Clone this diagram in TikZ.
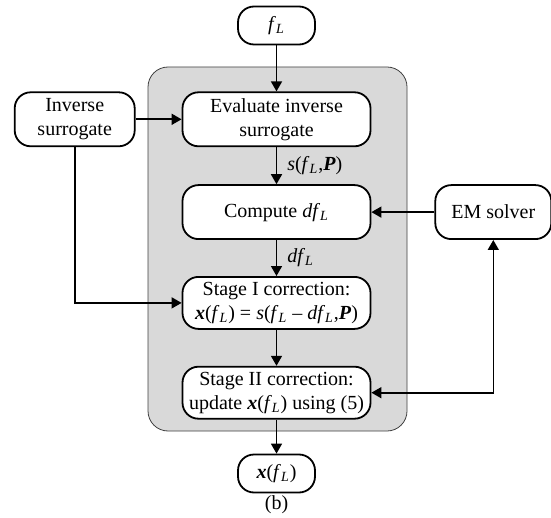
\documentclass[tikz,border=0pt]{standalone}
\usepackage{fontspec}
\setmainfont{Liberation Serif}
\usepackage{tikz}
\usetikzlibrary{positioning,arrows.meta}

\newcommand{\fL}{\textit{f}\textsubscript{\textit{L}}}
\newcommand{\dfL}{\textit{df}\textsubscript{\textit{L}}}
\newcommand{\xv}{\textbf{\textit{x}}}
\newcommand{\Pv}{\textbf{\textit{P}}}

\begin{document}
\begin{tikzpicture}[x=0.5pt, y=-0.5pt,
        block/.style={rectangle, rounded corners=8pt, draw, line width=0.9pt, fill=white, minimum height=27pt, minimum width=94pt, inner sep=1pt, align=center, font=\fontsize{10}{12}\selectfont},
        term/.style={block, minimum width=38.5pt, minimum height=19pt},
        lbl/.style={inner sep=1pt, font=\fontsize{10}{12}\selectfont},
        arr/.style={-{Triangle[length=5pt, width=5.5pt]}, line width=0.8pt}
    ]
        \useasboundingbox (0,0) rectangle (551,518);

        % Shaded loop
        \draw[fill=black!15, draw=black!75, line width=0.4pt, rounded corners=10pt] (148,67) rectangle (407,431);

        % Main chain
        \node[term] (fin) at (276.5,25.5) {\fL};
        \node[block, below=23pt of fin] (eval) {Evaluate inverse\\surrogate};
        \node[block, below=18.5pt of eval] (comp) {Compute \dfL};
        \node[block, minimum height=26pt, below=18pt of comp] (st1) {Stage I correction:\\\xv(\fL) = \textit{s}(\fL{} -- \dfL,\Pv)};
        \node[block, minimum height=26pt, below=18pt of st1] (st2) {Stage II correction:\\update \xv(\fL) using (5)};
        \node[term, below=17pt of st2] (fout) {\xv(\fL)};
        \node[lbl, inner sep=0pt, below=1pt of fout] (cap) {(b)};

        % Side blocks
        \node[block, minimum width=60pt, left=23pt of eval] (inv) {Inverse\\surrogate};
        \node[block, minimum width=58pt, right=31.5pt of comp] (em) {EM solver};

        % Arrows
        \draw[arr] (fin) -- (eval);
        \draw[arr] (eval) -- node[lbl, right=4pt] {\textit{s}(\fL,\Pv)} (comp);
        \draw[arr] (comp) -- node[lbl, right=4pt] {\dfL} (st1);
        \draw[arr] (st1) -- (st2);
        \draw[arr] (st2) -- (fout);
        \draw[arr] (inv) -- (eval);
        \draw[arr] (inv.south) |- (st1.west);
        \draw[arr] (em) -- (comp);
        \draw[arr, {Triangle[length=5pt, width=5.5pt]}-{Triangle[length=5pt, width=5.5pt]}] (st2.east) -| (em.south);
    \end{tikzpicture}
\end{document}
